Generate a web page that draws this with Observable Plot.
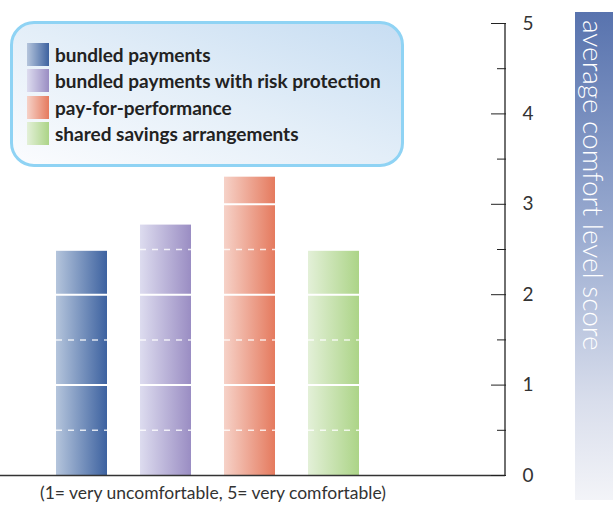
<!DOCTYPE html>
<html><head><meta charset="utf-8">
<script src="https://cdn.jsdelivr.net/npm/d3@7"></script>
<script src="https://cdn.jsdelivr.net/npm/@observablehq/plot@0.6"></script>
<style>
body{margin:0;background:#fff;}
#wrap{position:relative;width:613px;height:506px;overflow:hidden;font-family:Lato,"DejaVu Sans",sans-serif;}
#wrap svg{position:absolute;left:0;top:0;}
#legend{position:absolute;left:10px;top:21px;width:394px;height:146px;box-sizing:border-box;border:3px solid #8fd3f4;border-radius:24px;
 background:linear-gradient(20deg,#fbfcfe 0%,#e3eef8 50%,#c7ddf2 100%);}
.row{position:absolute;left:14px;height:23px;display:flex;align-items:center;}
.sw{width:22px;height:23px;margin-right:6px;flex:none;}
.lt{font-weight:700;font-size:19px;color:#222;white-space:nowrap;}
#ylab{position:absolute;left:575px;top:12px;width:38px;height:488px;background:linear-gradient(to bottom,#5873ae 0%,#9aabd0 45%,#d9deec 80%,#f3f4f8 100%);}
#ylab span{position:absolute;left:0;top:8px;width:38px;writing-mode:vertical-rl;color:#fff;font-weight:300;font-size:28px;line-height:38px;white-space:nowrap;}
#cap{position:absolute;left:0;width:426px;top:482px;text-align:center;font-size:17.5px;color:#333;font-weight:400;}
</style></head><body><div id="wrap"></div>
<script>
const categories = ["bundled payments","bundled payments with risk protection","pay-for-performance","shared savings arrangements"];
const scores = [2.48, 2.77, 3.30, 2.48];
const majorTicks = [0,1,2,3,4,5];
const minorTicks = [0.5,1.5,2.5,3.5,4.5];
const solidLevels = [1,2,3,4];
const dashedLevels = [0.5,1.5,2.5,3.5];
const gradLeft = ["#b5c5dc","#dddcef","#f6d2c8","#e3f0d8"];
const gradRight = ["#3d62a0","#9a8dc3","#e57a5e","#acd487"];
const yLabel = "average comfort level score";
const caption = "(1= very uncomfortable, 5= very comfortable)";

const bars = categories.map((c,i)=>({category:c, score:scores[i]}));
const solid = bars.flatMap(b=>solidLevels.filter(v=>v<b.score).map(v=>({category:b.category, v})));
const dashed = bars.flatMap(b=>dashedLevels.filter(v=>v<b.score).map(v=>({category:b.category, v})));

function axisLine(index, scales, values, dims) {
  const x = dims.width - dims.marginRight;
  const l = document.createElementNS("http://www.w3.org/2000/svg","line");
  l.setAttribute("x1", x); l.setAttribute("x2", x);
  l.setAttribute("y1", dims.marginTop); l.setAttribute("y2", dims.height - dims.marginBottom);
  l.setAttribute("stroke", "#222"); l.setAttribute("stroke-width", "1.3");
  return l;
}

const svg = Plot.plot({
  width:613, height:506, marginLeft:0, marginRight:108, marginTop:23, marginBottom:31,
  style:{fontFamily:"Lato, 'DejaVu Sans', sans-serif", background:"transparent"},
  x:{domain:categories, range:[21.7,392.3], padding:0.395, axis:null},
  y:{domain:[0,5], axis:null},
  color:{domain:categories, range:categories.map((c,i)=>`url(#grad${i})`)},
  marks:[
    Plot.barY(bars,{x:"category", y:"score", fill:"category"}),
    Plot.tickY(solid,{x:"category", y:"v", stroke:"white", strokeWidth:2}),
    Plot.tickY(dashed,{x:"category", y:"v", stroke:"white", strokeWidth:1.5, strokeDasharray:"6,6", strokeOpacity:0.8}),
    Plot.ruleY([0],{stroke:"#333", strokeWidth:1.5}),
    Plot.axisY(majorTicks,{anchor:"right", tickSize:15, dx:-15, tickFormat:()=>"", stroke:"#222"}),
    Plot.axisY(minorTicks,{anchor:"right", tickSize:9, dx:-9, tickFormat:()=>"", stroke:"#222"}),
    Plot.axisY(majorTicks,{anchor:"right", tickSize:0, tickPadding:17, fill:"#333", fontSize:19, fontWeight:400, tickFormat:d=>String(d)}),
    axisLine
  ]
});

const defs = d3.select(svg).insert("defs",":first-child");
categories.forEach((c,i)=>{
  const g = defs.append("linearGradient").attr("id",`grad${i}`).attr("x1","0").attr("x2","1").attr("y1","0").attr("y2","0");
  g.append("stop").attr("offset","0").attr("stop-color",gradLeft[i]);
  g.append("stop").attr("offset","1").attr("stop-color",gradRight[i]);
});

const wrap = document.getElementById("wrap");
wrap.appendChild(svg);

const legend = document.createElement("div");
legend.id = "legend";
categories.forEach((c,i)=>{
  const row = document.createElement("div");
  row.className = "row";
  row.style.top = (19 + i*26.3) + "px";
  const sw = document.createElement("div");
  sw.className = "sw";
  sw.style.background = `linear-gradient(to right, ${gradLeft[i]}, ${gradRight[i]})`;
  const t = document.createElement("span");
  t.className = "lt";
  t.textContent = c;
  row.appendChild(sw); row.appendChild(t);
  legend.appendChild(row);
});
wrap.appendChild(legend);

const yl = document.createElement("div");
yl.id = "ylab";
const ys = document.createElement("span");
ys.textContent = yLabel;
yl.appendChild(ys);
wrap.appendChild(yl);

const cap = document.createElement("div");
cap.id = "cap";
cap.textContent = caption;
wrap.appendChild(cap);
</script></body></html>
